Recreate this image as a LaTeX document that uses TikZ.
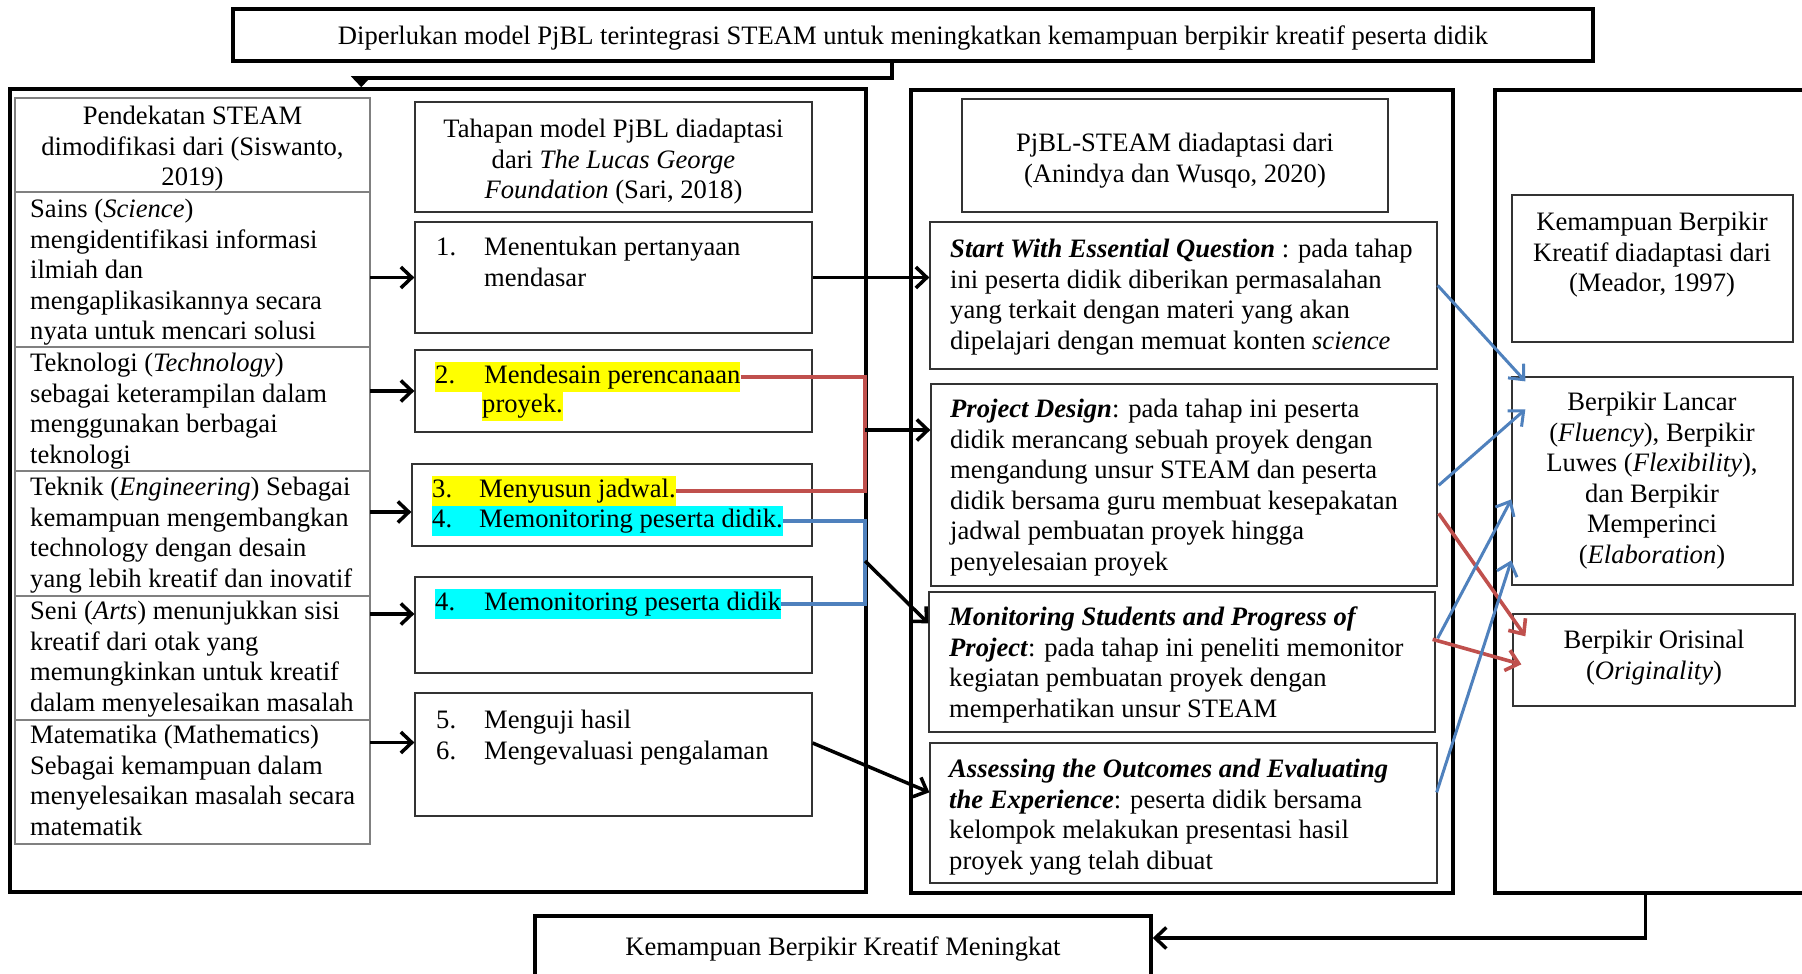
\documentclass[tikz,border=0pt]{standalone}
\usepackage{fontspec}
\setmainfont{Liberation Serif}
\usepackage{tikz}
\usetikzlibrary{arrows.meta,positioning,calc}
\definecolor{steamBlue}{RGB}{79,129,189}
\definecolor{steamRed}{RGB}{192,80,77}
\definecolor{markYellow}{RGB}{255,255,0}
\definecolor{markCyan}{RGB}{0,255,255}
\newcommand{\fs}{\fontsize{26.6}{30.5}\selectfont}
\newcommand{\hlY}[1]{\colorbox{markYellow}{\strut #1}}
\newcommand{\hlC}[1]{\colorbox{markCyan}{\strut #1}}
\setlength{\fboxsep}{0pt}

\begin{document}
\begin{tikzpicture}[x=1pt,y=-1pt,
    font=\fs,
    frame/.style={draw, line width=3.5pt, inner sep=0pt},
    box/.style={draw=black!80, line width=1.3pt, inner sep=0pt},
    cell/.style={draw=black!50, line width=1.2pt, inner sep=0pt, outer sep=0pt, minimum width=355pt, anchor=north west},
    txt/.style={align=left, inner sep=0pt, anchor=north west},
    ctxt/.style={align=center, inner sep=0pt, anchor=north},
    arr/.style={-{Straight Barb[length=11pt,width=21pt]}, line width=3.5pt},
    bluearr/.style={-{Straight Barb[length=12pt,width=21pt]}, line width=3pt, steamBlue},
    redarr/.style={-{Straight Barb[length=12pt,width=21pt]}, line width=3.6pt, steamRed},
    redln/.style={steamRed, line width=4.5pt},
    blueln/.style={steamBlue, line width=4.5pt}]
  \path[use as bounding box, fill=white] (0,0) rectangle (1802,974);

  % top and bottom boxes
  \node[frame, minimum width=1360pt, minimum height=52pt] (top) at (913,35) {};
  \node[anchor=base, inner sep=0pt] (topt) at (913,45) {Diperlukan model PjBL terintegrasi STEAM untuk meningkatkan kemampuan berpikir kreatif peserta didik};
  \node[frame, minimum width=616pt, minimum height=84pt] (fin) at (843,958) {};
  \node[anchor=base, inner sep=0pt] (fint) at (843,955) {Kemampuan Berpikir Kreatif Meningkat};

  % big frames
  \node[frame, minimum width=856pt, minimum height=803pt] (lbig) at (438,490.5) {};
  \node[frame, minimum width=542pt, minimum height=803pt] (mbig) at (1182,491.5) {};
  \node[frame, minimum width=355pt, minimum height=803pt] (rbig) at (1672.5,491.5) {};

  % STEAM column
  \node[cell, minimum height=94pt] (h0) at (15,98) {};
  \node[cell, minimum height=155pt] (r1) at (h0.south west) {};
  \node[cell, minimum height=124pt] (r2) at (r1.south west) {};
  \node[cell, minimum height=125pt] (r3) at (r2.south west) {};
  \node[cell, minimum height=124pt] (r4) at (r3.south west) {};
  \node[cell, minimum height=124pt] (r5) at (r4.south west) {};
  \node[ctxt] (h0t) at (192.5,106) {Pendekatan STEAM\\dimodifikasi dari (Siswanto,\\2019)};
  \node[txt] (r1t) at (30,199) {Sains (\textit{Science})\\mengidentifikasi informasi\\ilmiah dan\\mengaplikasikannya secara\\nyata untuk mencari solusi};
  \node[txt] (r2t) at (30,353) {Teknologi (\textit{Technology})\\sebagai keterampilan dalam\\menggunakan berbagai\\teknologi};
  \node[txt] (r3t) at (30,477) {Teknik (\textit{Engineering}) Sebagai\\kemampuan mengembangkan\\technology dengan desain\\yang lebih kreatif dan inovatif};
  \node[txt] (r4t) at (30,601) {Seni (\textit{Arts}) menunjukkan sisi\\kreatif dari otak yang\\memungkinkan untuk kreatif\\dalam menyelesaikan masalah};
  \node[txt] (r5t) at (30,725) {Matematika (Mathematics)\\Sebagai kemampuan dalam\\menyelesaikan masalah secara\\matematik};

  % PjBL stages
  \node[box, minimum width=397pt, minimum height=110pt] (t0) at (613.5,157) {};
  \node[box, minimum width=397pt, minimum height=111pt] (t1) at (613.5,277.5) {};
  \node[box, minimum width=397pt, minimum height=82pt] (t2) at (613.5,391) {};
  \node[box, minimum width=400pt, minimum height=82pt] (t3) at (612,505) {};
  \node[box, minimum width=397pt, minimum height=96pt] (t4) at (613.5,625) {};
  \node[box, minimum width=397pt, minimum height=123pt] (t5) at (613.5,754.5) {};
  \node[ctxt] (t0t) at (613.5,119) {Tahapan model PjBL diadaptasi\\dari \textit{The Lucas George}\\\textit{Foundation} (Sari, 2018)};
  \node[txt] (t1t) at (436,237) {\makebox[48pt][l]{1.}Menentukan pertanyaan\\\makebox[48pt]{}mendasar};
  \node[anchor=base west, inner sep=0pt] (p2) at (435,383) {\hlY{\makebox[49pt][l]{2.}Mendesain perencanaan}};
  \node[anchor=base west, inner sep=0pt] (p2b) at (482,412) {\hlY{proyek.}};
  \node[anchor=base west, inner sep=0pt] (p3) at (432,497) {\hlY{\makebox[47pt][l]{3.}Menyusun jadwal.}};
  \node[anchor=base west, inner sep=0pt] (p4) at (432,527) {\hlC{\makebox[47pt][l]{4.}Memonitoring peserta didik.}};
  \node[anchor=base west, inner sep=0pt] (p4b) at (435,610) {\hlC{\makebox[49pt][l]{4.}Memonitoring peserta didik}};
  \node[txt] (t5t) at (436,710) {\makebox[48pt][l]{5.}Menguji hasil\\\makebox[48pt][l]{6.}Mengevaluasi pengalaman};

  % PjBL-STEAM column
  \node[box, minimum width=426pt, minimum height=113pt] (m0) at (1175,155.5) {};
  \node[box, minimum width=507pt, minimum height=147pt] (sq) at (1183.5,295.5) {};
  \node[box, minimum width=506pt, minimum height=202pt] (pd) at (1184,485) {};
  \node[box, minimum width=506pt, minimum height=140pt] (ms) at (1182,662) {};
  \node[box, minimum width=507pt, minimum height=140pt] (ae) at (1183.5,813) {};
  \node[ctxt] (m0t) at (1175,133) {PjBL-STEAM diadaptasi dari\\(Anindya dan Wusqo, 2020)};
  \node[txt] (sqt) at (950,239) {\textbf{\textit{Start With Essential Question}} : pada tahap\\ini peserta didik diberikan permasalahan\\yang terkait dengan materi yang akan\\dipelajari dengan memuat konten \textit{science}};
  \node[txt] (pdt) at (950,399) {\textbf{\textit{Project Design}}: pada tahap ini peserta\\didik merancang sebuah proyek dengan\\mengandung unsur STEAM dan peserta\\didik bersama guru membuat kesepakatan\\jadwal pembuatan proyek hingga\\penyelesaian proyek};
  \node[txt] (mst) at (949,607) {\textbf{\textit{Monitoring Students and Progress of}}\\\textbf{\textit{Project}}: pada tahap ini peneliti memonitor\\kegiatan pembuatan proyek dengan\\memperhatikan unsur STEAM};
  \node[txt] (aet) at (949,759) {\textbf{\textit{Assessing the Outcomes and Evaluating}}\\\textbf{\textit{the Experience}}: peserta didik bersama\\kelompok melakukan presentasi hasil\\proyek yang telah dibuat};

  % creative thinking column
  \node[box, minimum width=281pt, minimum height=147pt] (k0) at (1652.5,268.5) {};
  \node[box, minimum width=281pt, minimum height=208pt] (lc) at (1652.5,481) {};
  \node[box, minimum width=282pt, minimum height=92pt] (ori) at (1654,660) {};
  \node[ctxt] (k0t) at (1652,212) {Kemampuan Berpikir\\Kreatif diadaptasi dari\\(Meador, 1997)};
  \node[ctxt] (lct) at (1652,392) {Berpikir Lancar\\(\textit{Fluency}), Berpikir\\Luwes (\textit{Flexibility}),\\dan Berpikir\\Memperinci\\(\textit{Elaboration})};
  \node[ctxt] (orit) at (1654,630) {Berpikir Orisinal\\(\textit{Originality})};

  % junction points on the frame edge
  \coordinate (rmid) at (865,430);
  \coordinate (bmid) at (865,561);
  \path ([yshift=-7pt]t3.west) coordinate (a3);
  \path ([yshift=11pt]t4.west) coordinate (a4);
  \path ([yshift=12pt]t5.west) coordinate (a5);

  % connectors
  \draw[line width=3.8pt, -{Triangle[length=11pt,width=20pt]}] ([xshift=-21pt]top.south) -- ++(0,15) -| ($(lbig.north west)+(353,0)$);
  \draw[arr] (t1.west -| r1.east) -- (t1.west);
  \draw[arr] (t2.west -| r2.east) -- (t2.west);
  \draw[arr] (a3 -| r3.east) -- (a3);
  \draw[arr] (a4 -| r4.east) -- (a4);
  \draw[arr] (a5 -| r5.east) -- (a5);
  \draw[redln] (p2.east) -- (p2.east -| rmid) |- (p3.east);
  \draw[blueln] (p4.east) -- (p4.east -| bmid) |- (p4b.east);
  \draw[arr] (t1.east) -- (t1.east -| sq.west);
  \draw[arr] (rmid) -- (rmid -| pd.west);
  \draw[arr] (bmid) -- ($(ms.north west)+(0,32)$);
  \draw[arr] ($(t5.east)+(0,-11.5)$) -- ($(ae.north west)+(0,50)$);
  \draw[bluearr] ($(sq.north east)+(0,64)$) -- ($(lc.north west)+(14,5)$);
  \draw[bluearr] ($(pd.north east)+(1,102)$) -- ($(lc.north west)+(14,33)$);
  \draw[redarr] ($(pd.north east)+(1,130)$) -- ($(ori.north west)+(13,23)$);
  \draw[bluearr] ($(ms.north east)+(2,47)$) -- ($(lc.north west)+(0,123)$);
  \draw[redarr] ($(ms.north east)+(-3,48)$) -- ($(ori.north west)+(9,51)$);
  \draw[bluearr] ($(ae.north east)+(-1,50)$) -- ($(lc.north west)+(0,184)$);
  \draw[arr] ($(rbig.south west)+(152,0)$) |- ([yshift=20pt]fin.east);
\end{tikzpicture}
\end{document}
